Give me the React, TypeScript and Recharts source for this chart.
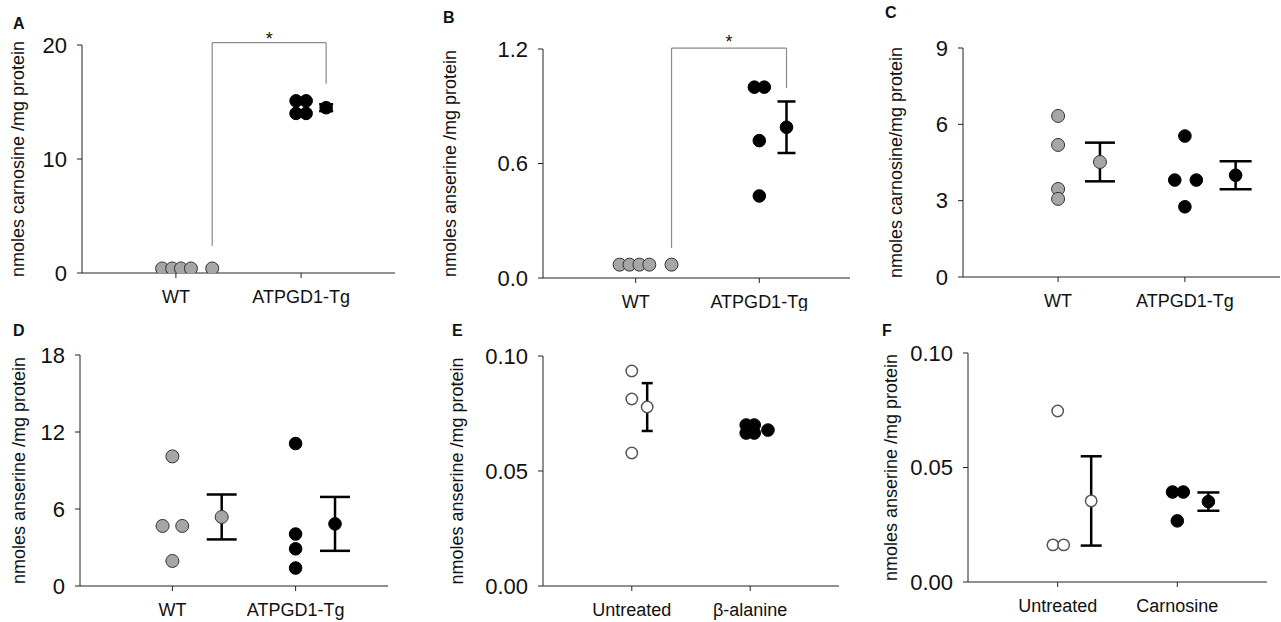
import { ScatterChart, Scatter, XAxis, YAxis, ErrorBar, ReferenceLine, ReferenceDot } from 'recharts';

const FONT = '"Liberation Sans", Arial, Helvetica, sans-serif';

// categories
const genotypes = ['WT', 'ATPGD1-Tg'];
const treatE = ['Untreated', 'β-alanine'];
const treatF = ['Untreated', 'Carnosine'];

// A - carnosine, heart
const aWt = [0.4, 0.4, 0.4, 0.4];
const aWtJitter = [-0.11, -0.03, 0.04, 0.12];
const aTg = [15.1, 15.1, 14.0, 14.0];
const aTgJitter = [-0.04, 0.04, -0.04, 0.04];
const aMeans = [0.4, 14.5];
const aSem = [0.1, 0.3];
const aTicks = [0, 10, 20];
const aBracketY = [2.4, 20.2, 16.6];
const aStarY = 20.6;

// B - anserine, heart
const bWt = [0.07, 0.07, 0.07, 0.07];
const bWtJitter = [-0.13, -0.05, 0.03, 0.11];
const bTg = [1.0, 1.0, 0.72, 0.43];
const bTgJitter = [-0.04, 0.04, 0, 0];
const bMeans = [0.07, 0.79];
const bSem = [0.005, 0.135];
const bTicks = [0, 0.6, 1.2];
const bBracketY = [0.157, 1.205, 0.995];
const bStarY = 1.24;

// C - carnosine
const cWt = [6.33, 5.19, 3.46, 3.07];
const cWtJitter = [0, 0, 0, 0];
const cTg = [5.54, 3.81, 3.81, 2.76];
const cTgJitter = [0, -0.08, 0.09, 0];
const cMeans = [4.52, 4.0];
const cSem = [0.76, 0.55];
const cTicks = [0, 3, 6, 9];

// D - anserine
const dWt = [10.1, 4.68, 4.68, 1.95];
const dWtJitter = [0, -0.08, 0.08, 0];
const dTg = [11.1, 4.05, 2.9, 1.4];
const dTgJitter = [0, 0, 0, 0];
const dMeans = [5.38, 4.84];
const dSem = [1.75, 2.1];
const dTicks = [0, 6, 12, 18];

// E - anserine, beta-alanine
const eUn = [0.0935, 0.0813, 0.0578];
const eUnJitter = [0, 0, 0];
const eBa = [0.07, 0.07, 0.0665, 0.0665];
const eBaJitter = [-0.034, 0.034, -0.034, 0.034];
const eMeans = [0.0778, 0.0678];
const eSem = [0.0104, 0.0008];
const eTicks = [0, 0.05, 0.1];

// F - anserine, carnosine
const fUn = [0.0747, 0.0162, 0.0162];
const fUnJitter = [0, -0.04, 0.05];
const fCa = [0.0393, 0.0393, 0.0267];
const fCaJitter = [-0.04, 0.05, 0];
const fMeans = [0.0354, 0.0351];
const fSem = [0.0195, 0.004];
const fTicks = [0, 0.05, 0.1];

type Mark = { fill: string; stroke: string; sw: number; r: number };
const gray: Mark = { fill: '#a6a6a6', stroke: '#333', sw: 1, r: 6.5 };
const black: Mark = { fill: '#000', stroke: '#000', sw: 1, r: 6.3 };
const open: Mark = { fill: '#fff', stroke: '#555', sw: 1.5, r: 5.7 };

type Group = { values: number[]; jitter: number[]; mean: number; sem: number; shift: number; cap: number; mark: Mark };
type PanelCfg = {
  letter: string;
  letterPos: [number, number];
  box: [number, number, number, number];
  plot: { l: number; r: number; t: number; b: number };
  labelX: number;
  yLabel: string;
  ticks: number[];
  fmt: (v: number) => string;
  cats: string[];
  groups: Group[];
  bracket?: { y: number[]; star: number };
};

const panels: PanelCfg[] = [
  {
    letter: 'A', letterPos: [13, 16], box: [0, 0, 425, 311], plot: { l: 82, r: 395, t: 45, b: 273 }, labelX: 18,
    yLabel: 'nmoles carnosine /mg protein', ticks: aTicks, fmt: (v) => String(v), cats: genotypes,
    groups: [
      { values: aWt, jitter: aWtJitter, mean: aMeans[0], sem: aSem[0], shift: 0.29, cap: 4, mark: gray },
      { values: aTg, jitter: aTgJitter, mean: aMeans[1], sem: aSem[1], shift: 0.2, cap: 7, mark: black },
    ],
    bracket: { y: aBracketY, star: aStarY },
  },
  {
    letter: 'B', letterPos: [443, 10], box: [425, 0, 425, 311], plot: { l: 543, r: 852, t: 49, b: 278 }, labelX: 450,
    yLabel: 'nmoles anserine /mg protein', ticks: bTicks, fmt: (v) => v.toFixed(1), cats: genotypes,
    groups: [
      { values: bWt, jitter: bWtJitter, mean: bMeans[0], sem: bSem[0], shift: 0.29, cap: 4, mark: gray },
      { values: bTg, jitter: bTgJitter, mean: bMeans[1], sem: bSem[1], shift: 0.22, cap: 9, mark: black },
    ],
    bracket: { y: bBracketY, star: bStarY },
  },
  {
    letter: 'C', letterPos: [885, 5], box: [850, 0, 431, 311], plot: { l: 963, r: 1280, t: 48, b: 277 }, labelX: 896,
    yLabel: 'nmoles carnosine/mg protein', ticks: cTicks, fmt: (v) => String(v), cats: genotypes,
    groups: [
      { values: cWt, jitter: cWtJitter, mean: cMeans[0], sem: cSem[0], shift: 0.33, cap: 15, mark: gray },
      { values: cTg, jitter: cTgJitter, mean: cMeans[1], sem: cSem[1], shift: 0.4, cap: 16, mark: black },
    ],
  },
  {
    letter: 'D', letterPos: [13, 323], box: [0, 311, 425, 311], plot: { l: 80, r: 388, t: 355, b: 586 }, labelX: 19,
    yLabel: 'nmoles anserine /mg protein', ticks: dTicks, fmt: (v) => String(v), cats: genotypes,
    groups: [
      { values: dWt, jitter: dWtJitter, mean: dMeans[0], sem: dSem[0], shift: 0.4, cap: 15, mark: gray },
      { values: dTg, jitter: dTgJitter, mean: dMeans[1], sem: dSem[1], shift: 0.32, cap: 15, mark: black },
    ],
  },
  {
    letter: 'E', letterPos: [452, 323], box: [425, 311, 425, 311], plot: { l: 543, r: 839, t: 356, b: 586 }, labelX: 457,
    yLabel: 'nmoles anserine /mg protein', ticks: eTicks, fmt: (v) => v.toFixed(2), cats: treatE,
    groups: [
      { values: eUn, jitter: eUnJitter, mean: eMeans[0], sem: eSem[0], shift: 0.13, cap: 5.5, mark: open },
      { values: eBa, jitter: eBaJitter, mean: eMeans[1], sem: eSem[1], shift: 0.15, cap: 4, mark: black },
    ],
  },
  {
    letter: 'F', letterPos: [882, 323], box: [850, 311, 431, 311], plot: { l: 968, r: 1267, t: 353, b: 582 }, labelX: 891,
    yLabel: 'nmoles anserine /mg protein', ticks: fTicks, fmt: (v) => v.toFixed(2), cats: treatF,
    groups: [
      { values: fUn, jitter: fUnJitter, mean: fMeans[0], sem: fSem[0], shift: 0.28, cap: 10.5, mark: open },
      { values: fCa, jitter: fCaJitter, mean: fMeans[1], sem: fSem[1], shift: 0.26, cap: 11, mark: black },
    ],
  },
];

const dot = (m: Mark) => (p: any) => (
  <circle cx={p.cx} cy={p.cy} r={m.r} fill={m.fill} stroke={m.stroke} strokeWidth={m.sw} />
);

function Panel({ cfg }: { cfg: PanelCfg }) {
  const [bx, by, bw, bh] = cfg.box;
  const { l, r, t, b } = cfg.plot;
  const xH = 30;
  const margin = { top: t - by, right: bx + bw - r, bottom: by + bh - b - xH, left: 2 };
  const yW = l - bx - 2;
  const yMax = cfg.ticks[cfg.ticks.length - 1];
  const x0 = cfg.groups[0].shift;
  const x1 = 1 + cfg.groups[1].shift;
  const line = { stroke: '#8a8a8a', strokeWidth: 1.2, ifOverflow: 'visible' as const };

  return (
    <div style={{ position: 'absolute', left: bx, top: by }}>
      <ScatterChart width={bw} height={bh} margin={margin}>
        <XAxis
          type="number"
          dataKey="x"
          domain={[-0.75, 1.75]}
          ticks={[0, 1]}
          interval={0}
          allowDataOverflow
          tickFormatter={(v: number) => cfg.cats[v]}
          height={xH}
          axisLine={{ stroke: '#222' }}
          tickLine={{ stroke: '#222' }}
          tickSize={5}
          tickMargin={12}
          tick={{ fill: '#111', fontSize: 18, fontFamily: FONT }}
        />
        <YAxis
          type="number"
          dataKey="y"
          domain={[0, yMax]}
          ticks={cfg.ticks}
          interval={0}
          allowDataOverflow
          tickFormatter={cfg.fmt}
          width={yW}
          axisLine={{ stroke: '#222' }}
          tickLine={{ stroke: '#222' }}
          tickSize={5}
          tickMargin={10}
          tick={{ fill: '#111', fontSize: 22, fontFamily: FONT }}
          label={{
            value: cfg.yLabel,
            angle: -90,
            position: 'insideLeft',
            offset: cfg.labelX - bx - 2,
            fill: '#111',
            fontSize: 18,
            fontFamily: FONT,
            style: { textAnchor: 'middle' },
          }}
        />
        {cfg.bracket && (
          <>
            <ReferenceLine segment={[{ x: x0, y: cfg.bracket.y[0] }, { x: x0, y: cfg.bracket.y[1] }]} {...line} />
            <ReferenceLine segment={[{ x: x0, y: cfg.bracket.y[1] }, { x: x1, y: cfg.bracket.y[1] }]} {...line} />
            <ReferenceLine segment={[{ x: x1, y: cfg.bracket.y[1] }, { x: x1, y: cfg.bracket.y[2] }]} {...line} />
            <ReferenceDot
              x={(x0 + x1) / 2}
              y={cfg.bracket.star}
              r={0}
              ifOverflow="visible"
              label={{ value: '*', position: 'center', fill: '#111', fontSize: 18, fontFamily: FONT }}
            />
          </>
        )}
        {cfg.groups.map((g, gi) => (
          <Scatter
            key={'pts' + gi}
            data={g.values.map((v, i) => ({ x: gi + g.jitter[i], y: v }))}
            shape={dot(g.mark)}
            isAnimationActive={false}
          />
        ))}
        {cfg.groups.map((g, gi) => (
          <Scatter
            key={'mean' + gi}
            data={[{ x: gi + g.shift, y: g.mean, err: g.sem }]}
            shape={dot(g.mark)}
            isAnimationActive={false}
          >
            <ErrorBar dataKey="err" direction="y" width={g.cap} stroke="#000" strokeWidth={2.5} />
          </Scatter>
        ))}
      </ScatterChart>
      <div
        style={{
          position: 'absolute',
          left: cfg.letterPos[0] - bx,
          top: cfg.letterPos[1] - by,
          fontFamily: FONT,
          fontWeight: 'bold',
          fontSize: 16,
          lineHeight: '16px',
          color: '#111',
        }}
      >
        {cfg.letter}
      </div>
    </div>
  );
}

export default function App() {
  return (
    <div style={{ position: 'absolute', left: 0, top: 0, width: 1281, height: 622, background: '#fff', overflow: 'hidden' }}>
      {panels.map((p) => (
        <Panel key={p.letter} cfg={p} />
      ))}
    </div>
  );
}
